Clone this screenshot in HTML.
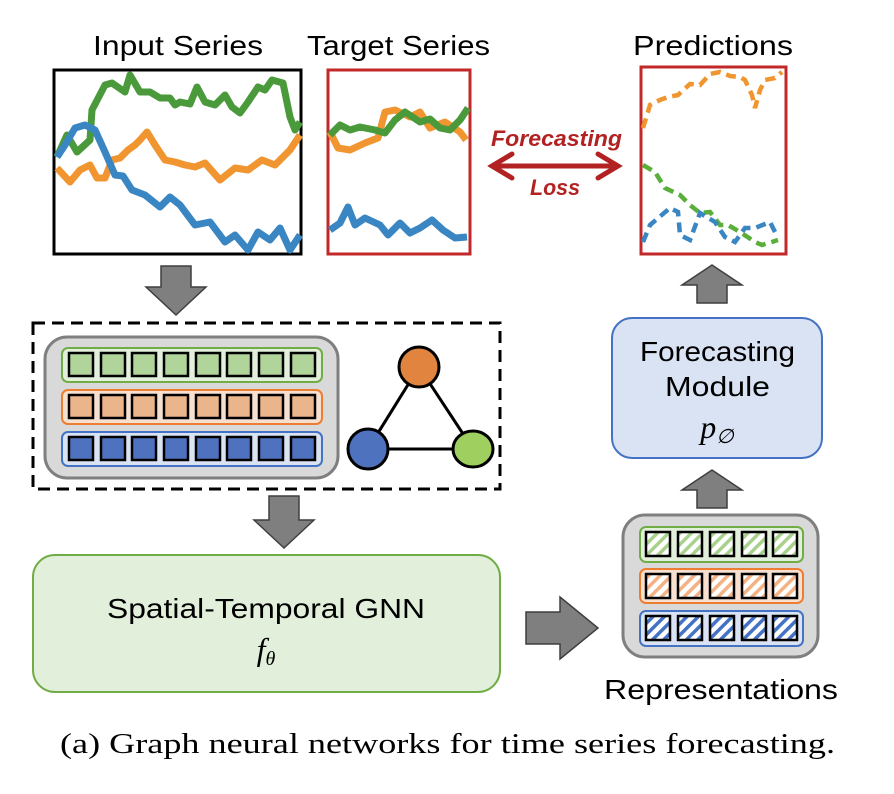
<!DOCTYPE html>
<html><head><meta charset="utf-8"><style>html,body{margin:0;padding:0;background:#fff}svg{display:block}</style></head>
<body>
<svg width="894" height="794" viewBox="0 0 894 794" xmlns="http://www.w3.org/2000/svg">
<defs>
<pattern id="hg" patternUnits="userSpaceOnUse" width="8" height="8" patternTransform="rotate(45)"><rect width="8" height="8" fill="#fff"/><rect width="3.5" height="8" fill="#a9d18e"/></pattern>
<pattern id="ho" patternUnits="userSpaceOnUse" width="8" height="8" patternTransform="rotate(45)"><rect width="8" height="8" fill="#fff"/><rect width="3.5" height="8" fill="#f4b183"/></pattern>
<pattern id="hb" patternUnits="userSpaceOnUse" width="8" height="8" patternTransform="rotate(45)"><rect width="8" height="8" fill="#fff"/><rect width="3.5" height="8" fill="#4472c4"/></pattern>
</defs>
<g font-family="Liberation Sans, sans-serif" font-size="28" fill="#000" lengthAdjust="spacingAndGlyphs">
<text x="93" y="55" textLength="170" lengthAdjust="spacingAndGlyphs">Input Series</text>
<text x="307" y="55" textLength="183" lengthAdjust="spacingAndGlyphs">Target Series</text>
<text x="633" y="55" textLength="160" lengthAdjust="spacingAndGlyphs">Predictions</text>
</g>
<!-- charts -->
<rect x="54" y="70" width="247" height="184" fill="#fff" stroke="#000" stroke-width="3"/>
<rect x="328" y="70" width="142" height="184" fill="#fff" stroke="#c0282a" stroke-width="3"/>
<rect x="641" y="67" width="145" height="187" fill="#fff" stroke="#c0282a" stroke-width="3"/>
<g fill="none" stroke-width="7" stroke-linejoin="round">
<polyline stroke="#4a9a3c" points="57,157 67,135 77,152 90,140 92,110 105,85 112,83 125,92 130,75 140,92 150,92 160,98 170,98 175,105 180,102 190,104 197,87 205,102 215,105 225,95 232,107 240,113 248,102 258,87 265,90 272,80 283,83 290,117 295,130 300,122"/>
<polyline stroke="#f0952f" points="57,168 70,182 80,170 90,165 97,178 105,178 112,160 120,158 128,150 135,145 140,140 147,132 155,145 165,160 175,162 185,165 195,167 205,163 220,180 235,168 248,170 262,160 275,165 290,150 300,135"/>
<polyline stroke="#3a86c2" points="57,157 65,145 75,128 85,125 95,130 105,152 115,175 123,176 132,190 145,195 160,207 170,197 180,205 195,225 210,222 225,242 235,235 248,250 258,232 270,240 280,228 290,250 300,235"/>
<polyline stroke="#f0952f" points="330,132 338,148 350,150 365,143 378,138 385,112 395,110 410,117 420,112 430,128 445,122 460,132 466,140"/>
<polyline stroke="#4a9a3c" points="330,135 340,125 350,130 360,127 375,130 385,133 395,120 405,112 420,122 430,119 440,128 450,130 460,120 468,108"/>
<polyline stroke="#3a86c2" points="330,230 340,223 348,207 355,225 365,218 380,225 388,235 400,223 410,233 420,228 432,220 443,230 455,238 467,237"/>
</g>
<g fill="none" stroke-width="4.5" stroke-dasharray="10 6">
<polyline stroke="#f0952f" points="643,128 650,105 660,100 668,97 678,95 690,84 700,85 710,74 720,72 730,76 740,77 745,80 752,95 755,108 760,90 765,80 775,78 782,72"/>
<polyline stroke="#5aae3a" points="643,165 655,172 665,188 680,195 690,205 700,213 710,212 720,225 728,225 740,232 755,242 762,245 778,240"/>
<polyline stroke="#3a86c2" points="643,242 650,225 670,208 678,212 680,235 690,240 700,213 715,222 725,237 735,242 745,228 755,228 770,222 775,232"/>
</g>
<!-- forecasting loss -->
<g fill="#b22222" font-family="Liberation Sans, sans-serif" font-weight="bold" font-style="italic" font-size="22">
<text x="491" y="146" textLength="131" lengthAdjust="spacingAndGlyphs">Forecasting</text>
<text x="530" y="195" textLength="50" lengthAdjust="spacingAndGlyphs">Loss</text>
</g>
<g stroke="#b22222" stroke-width="5" fill="none" stroke-linecap="round">
<line x1="493" y1="166" x2="617" y2="166"/>
<polyline points="512,154 492,166 512,178"/>
<polyline points="598,154 618,166 598,178"/>
</g>
<!-- gray arrows -->
<g fill="#7f7f7f" stroke="#3f3f3f" stroke-width="1.5">
<polygon points="161,266 191,266 191,287 206,287 176,315 146,287 161,287"/>
<polygon points="269,496 299,496 299,520 314,520 284,548 254,520 269,520"/>
<polygon points="526,612 560,612 560,597 598,628 560,659 560,644 526,644"/>
<polygon points="697,303 727,303 727,285 742,285 712,265 682,285 697,285"/>
<polygon points="697,508 727,508 727,490 742,490 712,470 682,490 697,490"/>
</g>
<!-- dashed input block -->
<rect x="33" y="323" width="467" height="166" fill="none" stroke="#000" stroke-width="3" stroke-dasharray="12 7"/>
<rect x="45" y="337" width="293" height="141" rx="22" fill="#d9d9d9" stroke="#7f7f7f" stroke-width="3"/>
<rect x="62" y="348" width="260" height="34" rx="6" fill="#e2efda" stroke="#70ad47" stroke-width="2"/>
<rect x="62" y="390" width="260" height="34" rx="6" fill="#f8e0d0" stroke="#ed7d31" stroke-width="2"/>
<rect x="62" y="432" width="260" height="34" rx="6" fill="#dae3f3" stroke="#4472c4" stroke-width="2"/>
<g stroke="#000" stroke-width="2.5">
<g fill="#b0d49a"><rect x="69" y="353" width="24" height="23"/><rect x="101" y="353" width="24" height="23"/><rect x="132" y="353" width="24" height="23"/><rect x="164" y="353" width="24" height="23"/><rect x="196" y="353" width="24" height="23"/><rect x="227" y="353" width="24" height="23"/><rect x="259" y="353" width="24" height="23"/><rect x="291" y="353" width="24" height="23"/></g>
<g fill="#ebb58c"><rect x="69" y="395" width="24" height="23"/><rect x="101" y="395" width="24" height="23"/><rect x="132" y="395" width="24" height="23"/><rect x="164" y="395" width="24" height="23"/><rect x="196" y="395" width="24" height="23"/><rect x="227" y="395" width="24" height="23"/><rect x="259" y="395" width="24" height="23"/><rect x="291" y="395" width="24" height="23"/></g>
<g fill="#4f72bf"><rect x="69" y="437" width="24" height="23"/><rect x="101" y="437" width="24" height="23"/><rect x="132" y="437" width="24" height="23"/><rect x="164" y="437" width="24" height="23"/><rect x="196" y="437" width="24" height="23"/><rect x="227" y="437" width="24" height="23"/><rect x="259" y="437" width="24" height="23"/><rect x="291" y="437" width="24" height="23"/></g>
</g>
<g stroke="#000" stroke-width="3">
<line x1="419" y1="367" x2="368" y2="449"/><line x1="419" y1="367" x2="473" y2="449"/><line x1="368" y1="449" x2="473" y2="449"/>
<circle cx="419" cy="367" r="20" fill="#e0843f"/>
<circle cx="368" cy="449" r="20" fill="#4f72bf"/>
<ellipse cx="473" cy="449" rx="20" ry="18" fill="#9fcf5f"/>
</g>
<!-- GNN -->
<rect x="33" y="555" width="467" height="137" rx="22" fill="#e2efda" stroke="#70ad47" stroke-width="2"/>
<text x="107" y="618" font-family="Liberation Sans, sans-serif" font-size="28" textLength="318" lengthAdjust="spacingAndGlyphs">Spatial-Temporal GNN</text>
<text x="266" y="660" font-family="Liberation Serif, serif" font-style="italic" font-size="32" text-anchor="middle">f<tspan font-size="20" dy="5">θ</tspan></text>
<!-- Forecasting module -->
<rect x="612" y="318" width="210" height="140" rx="20" fill="#dae3f3" stroke="#4472c4" stroke-width="2"/>
<g font-family="Liberation Sans, sans-serif" font-size="28">
<text x="640" y="361" textLength="155" lengthAdjust="spacingAndGlyphs">Forecasting</text>
<text x="665" y="396" textLength="105" lengthAdjust="spacingAndGlyphs">Module</text>
</g>
<text x="717" y="438" font-family="Liberation Serif, serif" font-style="italic" font-size="32" text-anchor="middle">p<tspan font-size="20" dy="5">∅</tspan></text>
<!-- representations -->
<rect x="623" y="515" width="195" height="142" rx="22" fill="#d9d9d9" stroke="#7f7f7f" stroke-width="3"/>
<rect x="640" y="527" width="163" height="35" rx="6" fill="#e2efda" stroke="#70ad47" stroke-width="2"/>
<rect x="640" y="569" width="163" height="34" rx="6" fill="#f8e0d0" stroke="#ed7d31" stroke-width="2"/>
<rect x="640" y="611" width="163" height="35" rx="6" fill="#dae3f3" stroke="#4472c4" stroke-width="2"/>
<g stroke="#000" stroke-width="2.5">
<g fill="url(#hg)"><rect x="646" y="532" width="24" height="24"/><rect x="678" y="532" width="24" height="24"/><rect x="710" y="532" width="24" height="24"/><rect x="742" y="532" width="24" height="24"/><rect x="773" y="532" width="24" height="24"/></g>
<g fill="url(#ho)"><rect x="646" y="574" width="24" height="24"/><rect x="678" y="574" width="24" height="24"/><rect x="710" y="574" width="24" height="24"/><rect x="742" y="574" width="24" height="24"/><rect x="773" y="574" width="24" height="24"/></g>
<g fill="url(#hb)"><rect x="646" y="616" width="24" height="24"/><rect x="678" y="616" width="24" height="24"/><rect x="710" y="616" width="24" height="24"/><rect x="742" y="616" width="24" height="24"/><rect x="773" y="616" width="24" height="24"/></g>
</g>
<text x="604" y="699" font-family="Liberation Sans, sans-serif" font-size="28" textLength="234" lengthAdjust="spacingAndGlyphs">Representations</text>
<text x="60" y="753" font-family="Liberation Serif, serif" font-size="29" textLength="775" lengthAdjust="spacingAndGlyphs">(a) Graph neural networks for time series forecasting.</text>
</svg>
</body></html>
